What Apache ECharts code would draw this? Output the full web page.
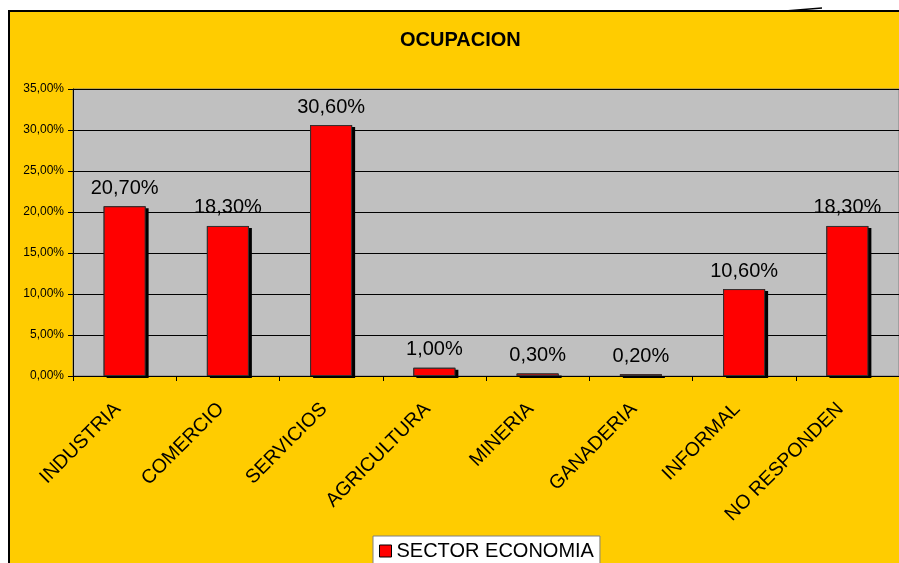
<!DOCTYPE html>
<html>
<head>
  <meta charset="UTF-8">
  <title>OCUPACION</title>
  <script src="https://cdn.jsdelivr.net/npm/echarts@6/dist/echarts.min.js"></script>
  <style>
    html, body { margin: 0; padding: 0; background: #fff; }
  </style>
</head>
<body>
  <div id="main" style="width: 899px; height: 563px;"></div>

  <script>
    const categories = ['INDUSTRIA', 'COMERCIO', 'SERVICIOS', 'AGRICULTURA', 'MINERIA', 'GANADERIA', 'INFORMAL', 'NO RESPONDEN'];
    const sectorEconomia = [20.7, 18.3, 30.6, 1.0, 0.3, 0.2, 10.6, 18.3];
    const yTicks = [0, 5, 10, 15, 20, 25, 30, 35];

    const font = "'Liberation Sans', Arial, sans-serif";
    const pct = (v) => Number(v).toFixed(2).replace('.', ',') + '%';

    const option = {
      backgroundColor: 'transparent',
      textStyle: { fontFamily: font },
      graphic: [
        {
          type: 'rect',
          z: -10,
          shape: { x: 9, y: 11, width: 910, height: 570 },
          style: { fill: '#FFCC00', stroke: '#000', lineWidth: 2 }
        },
        {
          type: 'line',
          z: -5,
          shape: { x1: 785, y1: 11, x2: 822, y2: 8 },
          style: { stroke: '#000', lineWidth: 1.5 }
        }
      ],
      title: {
        text: 'OCUPACION',
        left: 400,
        top: 30,
        padding: 0,
        textStyle: { fontFamily: font, fontSize: 20, fontWeight: 'bold', color: '#000' }
      },
      legend: {
        data: [{ name: 'SECTOR ECONOMIA', itemStyle: { color: '#FF0000', borderColor: '#000', borderWidth: 1 } }],
        left: 373,
        top: 536,
        padding: [5, 6, 8, 6],
        backgroundColor: '#fff',
        borderColor: '#808080',
        borderWidth: 1,
        borderRadius: 0,
        itemWidth: 12,
        itemHeight: 12,
        icon: 'rect',
        textStyle: { fontFamily: font, fontSize: 20, color: '#000' }
      },
      grid: {
        left: 73,
        right: -5,
        top: 89,
        bottom: 187,
        show: true,
        backgroundColor: '#C0C0C0',
        borderColor: '#808080',
        borderWidth: 1
      },
      xAxis: {
        type: 'category',
        data: categories,
        axisLine: { lineStyle: { color: '#000', width: 1 } },
        axisTick: { show: true, length: 5, lineStyle: { color: '#000' } },
        axisLabel: {
          rotate: 45,
          interval: 0,
          margin: 23,
          padding: [0, 10, 0, 0],
          fontFamily: font,
          fontSize: 19.5,
          color: '#000'
        }
      },
      yAxis: {
        type: 'value',
        min: yTicks[0],
        max: yTicks[yTicks.length - 1],
        interval: 5,
        axisLine: { show: true, lineStyle: { color: '#000', width: 1 } },
        axisTick: { show: true, length: 5, lineStyle: { color: '#000' } },
        splitLine: { lineStyle: { color: '#000', width: 1 } },
        axisLabel: {
          formatter: pct,
          margin: 9,
          fontFamily: font,
          fontSize: 12,
          color: '#000'
        }
      },
      series: [
        {
          // sombra negra detrás de cada barra
          name: 'SECTOR ECONOMIA',
          type: 'bar',
          barWidth: 42,
          barGap: '-100%',
          z: 1,
          silent: true,
          data: sectorEconomia,
          itemStyle: {
            color: '#000',
            borderWidth: 0,
            shadowColor: '#000',
            shadowBlur: 0,
            shadowOffsetX: 3,
            shadowOffsetY: 2
          }
        },
        {
          name: 'SECTOR ECONOMIA',
          type: 'bar',
          barWidth: 42,
          barGap: '-100%',
          z: 2,
          data: sectorEconomia,
          itemStyle: {
            color: '#FF0000',
            borderColor: '#333',
            borderWidth: 1
          },
          label: {
            show: true,
            position: 'top',
            distance: 8,
            formatter: (p) => pct(p.value),
            fontFamily: font,
            fontSize: 20,
            color: '#000'
          }
        }
      ]
    };

    const chart = echarts.init(document.getElementById('main'));
    chart.setOption(option);
  </script>
</body>
</html>
